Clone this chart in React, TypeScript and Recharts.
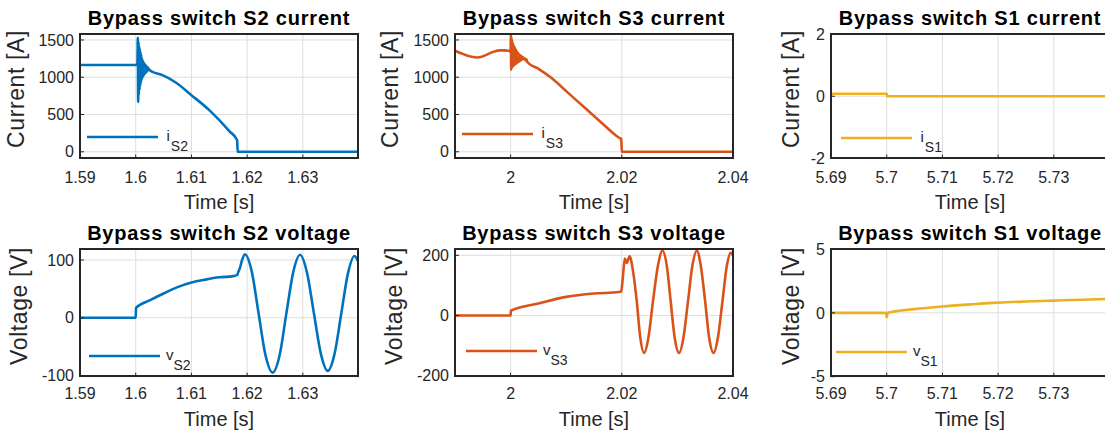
import React from "react";
import { LineChart, Line, XAxis, YAxis, CartesianGrid, Legend } from "recharts";

const FONT = '"Liberation Sans", Arial, Helvetica, sans-serif';
const INK = "#262626";
const GRID = "#dedede";
const BLUE = "#0072BD";
const ORANGE = "#D95319";
const YELLOW = "#EDB120";

// ---- values ----
const s2CurT = [1.59, 1.6, 1.6003, 1.60038, 1.60044, 1.6005, 1.60056, 1.60062, 1.60068, 1.60074, 1.6008, 1.60086, 1.60092, 1.60098, 1.60104, 1.6011, 1.60116, 1.60122, 1.60128, 1.60134, 1.6014, 1.60146, 1.60152, 1.60158, 1.60164, 1.6017, 1.60176, 1.60182, 1.60188, 1.60194, 1.602, 1.60206, 1.60212, 1.60218, 1.60224, 1.6023, 1.6024, 1.6025, 1.603, 1.6048, 1.6072, 1.61, 1.6132, 1.615, 1.6168, 1.6182, 1.6183, 1.64];
const s2CurA = [1165, 1165, 1180, 1530, 670, 1480, 760, 1420, 830, 1380, 880, 1340, 920, 1300, 950, 1270, 980, 1240, 1000, 1215, 1015, 1200, 1030, 1185, 1045, 1170, 1055, 1160, 1065, 1150, 1075, 1140, 1085, 1130, 1095, 1120, 1100, 1095, 1072, 1028, 930, 760, 559, 425, 277, 157, 0, 0];

const s3CurT = [1.99, 1.9915, 1.993, 1.994, 1.995, 1.9965, 1.998, 1.999, 2.0, 2.00005, 2.0001, 2.00015, 2.0002, 2.00025, 2.0003, 2.0004, 2.0005, 2.0006, 2.0007, 2.0008, 2.0009, 2.001, 2.0011, 2.0012, 2.0013, 2.0014, 2.0015, 2.0016, 2.0017, 2.0018, 2.0019, 2.002, 2.0021, 2.0022, 2.0023, 2.0025, 2.0027, 2.00285, 2.003, 2.0051, 2.0072, 2.0102, 2.0132, 2.0147, 2.0168, 2.0185, 2.0192, 2.0196, 2.0199, 2.02, 2.04];
const s3CurA = [1355, 1310, 1275, 1265, 1280, 1330, 1360, 1360, 1350, 1570, 1100, 1540, 1120, 1500, 1140, 1470, 1150, 1430, 1160, 1400, 1175, 1370, 1185, 1340, 1200, 1320, 1210, 1300, 1220, 1290, 1230, 1280, 1240, 1270, 1245, 1255, 1225, 1240, 1205, 1110, 1000, 800, 600, 500, 360, 245, 205, 185, 170, 0, 0];

const s1CurT = [5.69, 5.7, 5.7001, 5.74];
const s1CurA = [0.08, 0.08, 0, 0];

const s2VolT = [1.59, 1.6, 1.60005, 1.6025, 1.605, 1.6075, 1.61, 1.6125, 1.615, 1.6175, 1.6182, 1.6184, 1.6187, 1.6191, 1.6196, 1.62083, 1.62205, 1.6233, 1.62459, 1.62583, 1.62705, 1.62828, 1.6295, 1.63075, 1.632, 1.63325, 1.63448, 1.63568, 1.63688, 1.63808, 1.63926, 1.6399];
const s2VolV = [0, 0, 17, 30, 42, 53, 61, 66, 70, 72, 74, 79, 86, 100, 110, 80, 8, -65, -95, -65, 8, 79, 109, 78, 7, -63, -92, -63, 6, 76, 107, 98];

const s3VolT = [1.99, 2.0, 2.00005, 2.005, 2.01, 2.015, 2.0195, 2.0199, 2.0202, 2.02054, 2.0209, 2.0214, 2.022, 2.0227, 2.0233, 2.024, 2.0248, 2.0256, 2.0265, 2.0273, 2.0281, 2.0288, 2.0295, 2.0303, 2.0311, 2.0319, 2.0327, 2.0335, 2.0342, 2.035, 2.0357, 2.0365, 2.0373, 2.0381, 2.0389, 2.0396, 2.04];
const s3VolV = [0, 0, 16, 40, 62, 73, 78, 80, 130, 189, 175, 197, 150, 46, -70, -124, -72, 46, 165, 215, 165, 46, -72, -124, -72, 46, 166, 215, 166, 46, -72, -124, -72, 46, 166, 208, 200];

const s1VolT = [5.69, 5.6999, 5.7, 5.7002, 5.705, 5.71, 5.715, 5.72, 5.725, 5.73, 5.735, 5.74];
const s1VolV = [0, 0, -0.35, 0, 0.29, 0.5, 0.66, 0.8, 0.89, 0.96, 1.03, 1.09];

const xTicksS2 = [1.59, 1.6, 1.61, 1.62, 1.63];
const xTicksS3 = [2, 2.02, 2.04];
const xTicksS1 = [5.69, 5.7, 5.71, 5.72, 5.73];
const yTicksCur = [0, 500, 1000, 1500];
const yTicksS1Cur = [-2, 0, 2];
const yTicksS2Vol = [-100, 0, 100];
const yTicksS3Vol = [-200, 0, 200];
const yTicksS1Vol = [-5, 0, 5];

type Box = { x: number; y: number; w: number; h: number };
type PanelDef = {
  title: string;
  yLabel: string;
  sym: string;
  sub: string;
  color: string;
  t: number[];
  v: number[];
  xDomain: [number, number];
  xTicks: number[];
  yDomain: [number, number];
  yTicks: number[];
  box: Box;
  yLabelGap: number;
  legend: { x: number; y: number };
  row: number;
};

const ROW1 = { y: 33.8, h: 124.5 };
const ROW2 = { y: 248.8, h: 127.7 };
const COLS = [80, 455, 831];
const PW = 278;

const panels: PanelDef[] = [
  { title: "Bypass switch S2 current", yLabel: "Current [A]", sym: "i", sub: "S2", color: BLUE, t: s2CurT, v: s2CurA, xDomain: [1.59, 1.6399], xTicks: xTicksS2, yDomain: [-90, 1580], yTicks: yTicksCur, box: { x: COLS[0], y: ROW1.y, w: PW, h: ROW1.h }, yLabelGap: 64, legend: { x: 87.3, y: 137.3 }, row: 0 },
  { title: "Bypass switch S3 current", yLabel: "Current [A]", sym: "i", sub: "S3", color: ORANGE, t: s3CurT, v: s3CurA, xDomain: [1.99, 2.04], xTicks: xTicksS3, yDomain: [-90, 1580], yTicks: yTicksCur, box: { x: COLS[1], y: ROW1.y, w: PW, h: ROW1.h }, yLabelGap: 65, legend: { x: 461.5, y: 134.5 }, row: 0 },
  { title: "Bypass switch S1 current", yLabel: "Current [A]", sym: "i", sub: "S1", color: YELLOW, t: s1CurT, v: s1CurA, xDomain: [5.69, 5.7399], xTicks: xTicksS1, yDomain: [-2, 2], yTicks: yTicksS1Cur, box: { x: COLS[2], y: ROW1.y, w: PW, h: ROW1.h }, yLabelGap: 40, legend: { x: 840.7, y: 138.3 }, row: 0 },
  { title: "Bypass switch S2 voltage", yLabel: "Voltage [V]", sym: "v", sub: "S2", color: BLUE, t: s2VolT, v: s2VolV, xDomain: [1.59, 1.6399], xTicks: xTicksS2, yDomain: [-102, 119], yTicks: yTicksS2Vol, box: { x: COLS[0], y: ROW2.y, w: PW, h: ROW2.h }, yLabelGap: 61, legend: { x: 89.3, y: 356 }, row: 1 },
  { title: "Bypass switch S3 voltage", yLabel: "Voltage [V]", sym: "v", sub: "S3", color: ORANGE, t: s3VolT, v: s3VolV, xDomain: [1.99, 2.04], xTicks: xTicksS3, yDomain: [-203, 221], yTicks: yTicksS3Vol, box: { x: COLS[1], y: ROW2.y, w: PW, h: ROW2.h }, yLabelGap: 61, legend: { x: 466, y: 350.7 }, row: 1 },
  { title: "Bypass switch S1 voltage", yLabel: "Voltage [V]", sym: "v", sub: "S1", color: YELLOW, t: s1VolT, v: s1VolV, xDomain: [5.69, 5.7399], xTicks: xTicksS1, yDomain: [-5, 5], yTicks: yTicksS1Vol, box: { x: COLS[2], y: ROW2.y, w: PW, h: ROW2.h }, yLabelGap: 40, legend: { x: 836, y: 352 }, row: 1 },
];

const fmt = (v: number) => String(Number(v.toFixed(3)));

const ML = 80;
const MT = 10;
const MR = 34;
const XH = 60;

const LegendKey = ({ color, sym, sub }: { color: string; sym: string; sub: string }) => (
  <svg width={130} height={26} style={{ display: "block", overflow: "visible" }}>
    <line x1={0} y1={6} x2={71} y2={6} stroke={color} strokeWidth={2.6} />
    <text x={71 + (sym === "i" ? 8.5 : 6)} y={10.4} fontSize={15} fill={INK} fontFamily={FONT}>
      {sym}
      <tspan dx={sym === "i" ? 1 : 0} dy={9.2} fontSize={14}>
        {sub}
      </tspan>
    </text>
  </svg>
);

const Panel = ({ p }: { p: PanelDef }) => {
  const { box } = p;
  const data = p.t.map((t, i) => ({ t, v: p.v[i] }));
  const chartLeft = box.x - ML;
  const chartTop = box.y - MT;
  const tickStyle = { fill: INK, fontSize: 16, fontFamily: FONT };
  return (
    <>
      <div style={{ position: "absolute", left: chartLeft, top: chartTop }}>
        <LineChart
          width={ML + box.w + MR}
          height={MT + box.h + XH}
          data={data}
          margin={{ top: MT, right: MR, bottom: 0, left: 0 }}
        >
          <CartesianGrid stroke={GRID} strokeWidth={1} />
          <XAxis
            dataKey="t"
            type="number"
            domain={p.xDomain}
            ticks={p.xTicks}
            interval={0}
            allowDataOverflow
            height={XH}
            axisLine={false}
            tickSize={-4}
            tickMargin={p.row === 0 ? 17.4 : 15.2}
            tickLine={{ stroke: INK }}
            tick={tickStyle}
            tickFormatter={fmt}
            label={{ value: "Time [s]", position: "insideTop", offset: p.row === 0 ? 36.7 : 35.2, fill: INK, fontSize: 20, fontFamily: FONT }}
          />
          <XAxis
            xAxisId="top"
            orientation="top"
            type="number"
            domain={p.xDomain}
            ticks={p.xTicks}
            interval={0}
            allowDataOverflow
            height={0}
            axisLine={false}
            tickSize={-4}
            tickLine={{ stroke: INK }}
            tick={false}
          />
          <YAxis
            type="number"
            domain={p.yDomain}
            ticks={p.yTicks}
            interval={0}
            allowDataOverflow
            width={ML}
            axisLine={false}
            tickSize={-4}
            tickMargin={10}
            tickLine={{ stroke: INK }}
            tick={tickStyle}
            tickFormatter={fmt}
          />
          <YAxis
            yAxisId="right"
            orientation="right"
            type="number"
            domain={p.yDomain}
            ticks={p.yTicks}
            interval={0}
            allowDataOverflow
            width={0}
            axisLine={false}
            tickSize={-4}
            tickLine={{ stroke: INK }}
            tick={false}
          />
          <Line
            type="monotone"
            dataKey="v"
            stroke={p.color}
            strokeWidth={2.6}
            dot={false}
            activeDot={false}
            isAnimationActive={false}
          />
          <Legend
            layout="horizontal"
            verticalAlign="middle"
            align="center"
            wrapperStyle={{ left: p.legend.x - chartLeft, top: p.legend.y - 6 - chartTop, width: 130, height: 26 }}
            content={() => <LegendKey color={p.color} sym={p.sym} sub={p.sub} />}
          />
        </LineChart>
      </div>
      <div
        style={{
          position: "absolute",
          left: box.x - 1,
          top: box.y - 1,
          width: box.w + 2,
          height: box.h + 2,
          border: `2px solid ${INK}`,
          boxSizing: "border-box",
          pointerEvents: "none",
        }}
      />
      <div
        style={{
          position: "absolute",
          left: box.x,
          width: box.w,
          top: box.y - 25.7,
          textAlign: "center",
          fontFamily: FONT,
          fontWeight: "bold",
          fontSize: 20,
          lineHeight: "20px",
          letterSpacing: "0.8px",
          whiteSpace: "nowrap",
          color: "#000",
        }}
      >
        {p.title}
      </div>
      <div
        style={{
          position: "absolute",
          left: box.x - p.yLabelGap,
          top: box.y + box.h / 2 - 7,
          transform: "translate(-50%, -50%) rotate(-90deg)",
          fontFamily: FONT,
          fontSize: 23,
          lineHeight: "23px",
          letterSpacing: "0.6px",
          whiteSpace: "nowrap",
          color: INK,
        }}
      >
        {p.yLabel}
      </div>
    </>
  );
};

export default function App() {
  return (
    <div style={{ position: "relative", width: 1105, height: 435, overflow: "hidden", background: "#fff" }}>
      <style>{"body{margin:0;overflow:hidden;background:#fff}"}</style>
      {panels.map((p) => (
        <Panel key={p.title} p={p} />
      ))}
    </div>
  );
}
